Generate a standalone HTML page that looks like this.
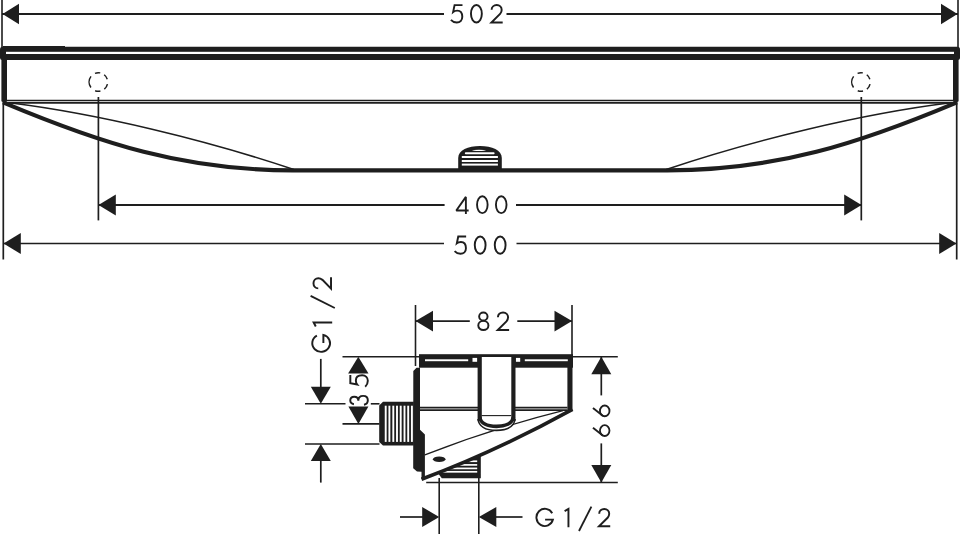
<!DOCTYPE html>
<html><head><meta charset="utf-8"><style>
html,body{margin:0;padding:0;background:#fff;width:960px;height:534px;overflow:hidden;font-family:"Liberation Sans",sans-serif;}
svg{display:block;}
</style></head><body>
<svg width="960" height="534" viewBox="0 0 960 534"><g fill="#1e1e1e" stroke="#1e1e1e" stroke-width="0"><line x1="2" y1="0" x2="2" y2="48" stroke-width="1.6"/>
<line x1="958" y1="0" x2="958" y2="48" stroke-width="1.6"/>
<line x1="2" y1="14.0" x2="444" y2="14.0" stroke-width="1.9"/>
<line x1="506.5" y1="14.0" x2="958" y2="14.0" stroke-width="1.9"/>
<polygon points="2.50,14.00 19.00,3.70 19.00,24.30"/>
<polygon points="957.50,14.00 941.00,3.70 941.00,24.30"/>
<rect x="0" y="46.7" width="960" height="13.4" rx="2.5"/>
<rect x="3" y="46.0" width="62" height="1.5"/>
<rect x="6" y="51.8" width="948" height="2.2" fill="#fff"/>
<rect x="1.4" y="55" width="5.6" height="47" rx="1.5"/>
<rect x="953" y="55" width="5.6" height="47" rx="1.5"/>
<line x1="5" y1="100.5" x2="955" y2="100.5" stroke-width="1.3"/>
<line x1="5" y1="102.9" x2="955" y2="102.9" stroke-width="1.6"/>
<path d="M94.99,73.35 A9.3,9.3 0 0 1 100.25,72.89 M104.19,74.72 A9.3,9.3 0 0 1 107.27,79.20 M107.44,84.17 A9.3,9.3 0 0 1 104.32,89.18 M100.41,91.08 A9.3,9.3 0 0 1 95.14,90.71 M90.92,87.53 A9.3,9.3 0 0 1 91.02,76.34" fill="none" stroke-width="1.5"/>
<path d="M857.59,73.35 A9.3,9.3 0 0 1 862.85,72.89 M866.79,74.72 A9.3,9.3 0 0 1 869.87,79.20 M870.04,84.17 A9.3,9.3 0 0 1 866.92,89.18 M863.01,91.08 A9.3,9.3 0 0 1 857.74,90.71 M853.52,87.53 A9.3,9.3 0 0 1 853.62,76.34" fill="none" stroke-width="1.5"/>
<path d="M3,102.3 C100.9,143.4 183.5,170.35 293,170.35 L667,170.35 C776.5,170.35 859.1,143.4 957,102.3" fill="none" stroke-width="4.1"/>
<path d="M9.4,102.8 C98.6,113.9 205.9,140 293.8,169.5" fill="none" stroke-width="1.55"/>
<path d="M950.6,102.8 C861.4,113.9 754.1,140 666.2,169.5" fill="none" stroke-width="1.55"/>
<path d="M458.2,171 L458.2,158 C458.2,150 468,145.9 480,145.9 C492,145.9 501.8,150 501.8,158 L501.8,171 Z"/>
<ellipse cx="479" cy="150.3" rx="7" ry="0.6" fill="#fff"/>
<rect x="464.8" y="152.2" width="29.8" height="2.1" rx="1" fill="#fff"/>
<rect x="461.8" y="156.0" width="36.1" height="2.0" fill="#fff"/>
<rect x="461.8" y="160.0" width="36.1" height="2.0" fill="#fff"/>
<rect x="461.8" y="163.6" width="36.1" height="2.0" fill="#fff"/>
<line x1="98.4" y1="97" x2="98.4" y2="220.4" stroke-width="1.7"/>
<line x1="861.3" y1="97" x2="861.3" y2="220.4" stroke-width="1.7"/>
<line x1="98.5" y1="205.0" x2="444.6" y2="205.0" stroke-width="1.9"/>
<line x1="516" y1="205.0" x2="861.5" y2="205.0" stroke-width="1.9"/>
<polygon points="98.50,205.00 115.80,194.50 115.80,215.50"/>
<polygon points="861.50,205.00 844.20,194.50 844.20,215.50"/>
<line x1="3.3" y1="102" x2="3.3" y2="259.5" stroke-width="1.7"/>
<line x1="956.7" y1="102" x2="956.7" y2="259.5" stroke-width="1.7"/>
<line x1="3.3" y1="243.5" x2="444" y2="243.5" stroke-width="1.7"/>
<line x1="516.5" y1="243.5" x2="956.7" y2="243.5" stroke-width="1.7"/>
<polygon points="3.50,243.50 20.80,233.00 20.80,254.00"/>
<polygon points="956.50,243.50 939.20,233.00 939.20,254.00"/>
<line x1="415.5" y1="305" x2="415.5" y2="366" stroke-width="1.6"/>
<line x1="572" y1="305" x2="572" y2="356" stroke-width="1.6"/>
<line x1="415.5" y1="321.1" x2="469.8" y2="321.1" stroke-width="1.8"/>
<line x1="517.3" y1="321.1" x2="572" y2="321.1" stroke-width="1.8"/>
<polygon points="415.50,321.10 433.00,310.80 433.00,331.40"/>
<polygon points="572.00,321.10 554.50,310.80 554.50,331.40"/>
<line x1="342.5" y1="356.8" x2="617.8" y2="356.8" stroke-width="1.6"/>
<line x1="426.2" y1="482.5" x2="617.8" y2="482.5" stroke-width="1.6"/>
<line x1="601.3" y1="356.8" x2="601.3" y2="395.4" stroke-width="1.7"/>
<line x1="601.3" y1="443.4" x2="601.3" y2="482.5" stroke-width="1.7"/>
<polygon points="601.30,356.80 591.30,374.30 611.30,374.30"/>
<polygon points="601.30,482.50 591.30,465.00 611.30,465.00"/>
<rect x="419" y="354.2" width="154" height="13.5"/>
<rect x="425" y="359.3" width="43.2" height="1.9" fill="#fff"/>
<rect x="524.8" y="359.3" width="43" height="1.9" fill="#fff"/>
<rect x="472.5" y="357.9" width="4.7" height="3.9" fill="#fff"/>
<rect x="515.9" y="357.9" width="4.3" height="3.9" fill="#fff"/>
<rect x="481.5" y="357.9" width="29.8" height="10" fill="#fff"/>
<path d="M413.3,371 L416.5,367.7 L420,367.7 L420,429.7 L424.9,434.6 L424.9,479 L421.5,479 L421.5,471.8 L417,471.5 L413.2,468.2 Z"/>
<rect x="567.4" y="367" width="5.1" height="43.2"/>
<line x1="420" y1="407.6" x2="567.5" y2="407.6" stroke-width="1.7"/>
<line x1="420" y1="410.2" x2="567.5" y2="410.2" stroke-width="1.7"/>
<path d="M438.4,472.5 L438.4,473.8 L441.8,478.3 L480.8,478.3 L480.8,454 Z"/>
<rect x="466" y="460.4" width="11.2" height="1.7" fill="#fff"/>
<rect x="458" y="464.04999999999995" width="19.2" height="1.7" fill="#fff"/>
<rect x="450" y="467.54999999999995" width="27.2" height="1.7" fill="#fff"/>
<rect x="442" y="470.95" width="35.2" height="1.7" fill="#fff"/>
<path d="M424.9,454.8 Q493.8,427.9 563,410.7" fill="none" stroke-width="1.3"/>
<path d="M421.5,479.2 Q497,450.9 572.5,409.3" fill="none" stroke-width="3.6"/>
<path d="M479.7,357 L479.7,419 C479.5,427.5 487,430.6 496.5,430.6 C506,430.6 513.5,427.5 513.4,419 L513.4,357 Z" fill="#fff"/>
<line x1="479.7" y1="357" x2="479.7" y2="421" stroke-width="4.2"/>
<line x1="513.4" y1="357" x2="513.4" y2="421" stroke-width="4.2"/>
<path d="M479.7,417 C480.5,423.7 488,426.4 496.5,426.4 C505,426.4 512.5,423.7 513.4,417" fill="none" stroke-width="3.6"/>
<path d="M478.0,419 C479.0,427.2 487,430.4 496.5,430.4 C506,430.4 514,427.2 515.1,419" fill="none" stroke-width="1.6"/>
<line x1="481.5" y1="415.6" x2="511.3" y2="415.6" stroke-width="1.1"/>
<ellipse cx="439.2" cy="459.3" rx="6.3" ry="2.8"/>
<path d="M413.8,401.8 L383,401.8 L379.2,405.5 L379.2,442 L383,445.6 L413.8,445.6 Z"/>
<rect x="384.75" y="405.7" width="1.9" height="36.2" fill="#fff"/>
<rect x="388.45" y="405.7" width="1.9" height="36.2" fill="#fff"/>
<rect x="392.35" y="405.7" width="1.9" height="36.2" fill="#fff"/>
<rect x="396.05" y="405.7" width="1.9" height="36.2" fill="#fff"/>
<rect x="399.75" y="405.7" width="1.9" height="36.2" fill="#fff"/>
<rect x="403.55" y="405.7" width="1.9" height="36.2" fill="#fff"/>
<rect x="407.25" y="405.7" width="1.9" height="36.2" fill="#fff"/>
<rect x="410.95" y="405.7" width="1.9" height="36.2" fill="#fff"/>
<line x1="305" y1="403.8" x2="345.5" y2="403.8" stroke-width="1.6"/>
<line x1="370.8" y1="403.8" x2="379.5" y2="403.8" stroke-width="1.6"/>
<line x1="305" y1="444.0" x2="379.5" y2="444.0" stroke-width="1.6"/>
<line x1="342.5" y1="423.9" x2="379.5" y2="423.9" stroke-width="1.6"/>
<line x1="320.8" y1="358.9" x2="320.8" y2="400" stroke-width="1.7"/>
<polygon points="320.80,403.80 310.80,386.80 330.80,386.80"/>
<line x1="320.8" y1="446" x2="320.8" y2="482.6" stroke-width="1.7"/>
<polygon points="320.80,444.00 310.80,461.00 330.80,461.00"/>
<polygon points="358.30,356.80 348.10,373.60 368.50,373.60"/>
<polygon points="358.40,423.90 348.40,406.40 368.40,406.40"/>
<line x1="310.6" y1="295.9" x2="334.8" y2="308.0" stroke-width="1.8"/>
<line x1="439.2" y1="478" x2="439.2" y2="534" stroke-width="1.6"/>
<line x1="478.8" y1="478" x2="478.8" y2="534" stroke-width="1.6"/>
<line x1="400" y1="517" x2="424" y2="517" stroke-width="1.7"/>
<polygon points="439.20,517.00 422.20,507.00 422.20,527.00"/>
<line x1="494" y1="517" x2="522.5" y2="517" stroke-width="1.7"/>
<polygon points="478.80,517.00 496.30,507.00 496.30,527.00"/>
<line x1="579" y1="531" x2="591.4" y2="506.6" stroke-width="1.8"/></g><g fill="none" stroke="#1e1e1e" stroke-width="1.9" stroke-linecap="butt"><g transform="translate(450.10,4.10) scale(1.016)"><path d="M12.2,1 L4.4,1 L3.0,7.7 C4.1,6.8 5.5,6.4 7.0,6.4 C10.2,6.4 12,9 12,12.5 C12,16 9.7,18.05 6.6,18.05 C4.2,18.05 2.2,17.1 0.8,15.5"/></g>
<g transform="translate(470.00,4.10) scale(1.016)"><ellipse cx="6.3" cy="9.5" rx="5.35" ry="8.55"/></g>
<g transform="translate(490.40,4.10) scale(1.016)"><path d="M1.2,5.6 C1.2,2.9 3.4,0.95 6.2,0.95 C9.1,0.95 11.1,3.0 11.1,5.7 C11.1,7.3 10.4,8.5 9.5,9.7 L1.0,18.05 L12.1,18.05"/></g>
<g transform="translate(455.30,195.30) scale(0.989)"><path d="M10.7,19 L10.7,1.6 L1.0,15.4 L13.5,15.4" stroke-linejoin="bevel"/></g>
<g transform="translate(476.10,195.30) scale(0.989)"><ellipse cx="6.3" cy="9.5" rx="5.35" ry="8.55"/></g>
<g transform="translate(495.00,195.30) scale(0.989)"><ellipse cx="6.3" cy="9.5" rx="5.35" ry="8.55"/></g>
<g transform="translate(453.80,235.50) scale(1.011)"><path d="M12.2,1 L4.4,1 L3.0,7.7 C4.1,6.8 5.5,6.4 7.0,6.4 C10.2,6.4 12,9 12,12.5 C12,16 9.7,18.05 6.6,18.05 C4.2,18.05 2.2,17.1 0.8,15.5"/></g>
<g transform="translate(473.80,235.50) scale(1.011)"><ellipse cx="6.3" cy="9.5" rx="5.35" ry="8.55"/></g>
<g transform="translate(493.80,235.50) scale(1.011)"><ellipse cx="6.3" cy="9.5" rx="5.35" ry="8.55"/></g>
<g transform="translate(477.30,311.50) scale(1.026)"><ellipse cx="5.9" cy="4.9" rx="4.1" ry="3.95"/><ellipse cx="5.9" cy="13.6" rx="4.95" ry="4.45"/></g>
<g transform="translate(496.70,311.50) scale(1.026)"><path d="M1.2,5.6 C1.2,2.9 3.4,0.95 6.2,0.95 C9.1,0.95 11.1,3.0 11.1,5.7 C11.1,7.3 10.4,8.5 9.5,9.7 L1.0,18.05 L12.1,18.05"/></g>
<g transform="translate(592.10,436.90) rotate(-90) scale(0.963)"><ellipse cx="6.55" cy="13.1" rx="5.6" ry="4.95"/><path d="M9.5,0.9 L1.5,11.0"/></g>
<g transform="translate(592.10,417.20) rotate(-90) scale(0.963)"><ellipse cx="6.55" cy="13.1" rx="5.6" ry="4.95"/><path d="M9.5,0.9 L1.5,11.0"/></g>
<g transform="translate(349.30,405.60) rotate(-90) scale(1.026)"><path d="M1.3,4.5 C1.6,2.3 3.1,0.95 5.1,0.95 C7.2,0.95 8.7,2.6 8.7,4.8 C8.7,7.2 7.1,8.8 4.8,8.8 C7.8,8.8 9.5,10.8 9.5,13.5 C9.5,16.3 7.7,18.05 5.1,18.05 C2.8,18.05 1.1,16.6 0.8,14.3"/></g>
<g transform="translate(349.30,387.60) rotate(-90) scale(1.026)"><path d="M12.2,1 L4.4,1 L3.0,7.7 C4.1,6.8 5.5,6.4 7.0,6.4 C10.2,6.4 12,9 12,12.5 C12,16 9.7,18.05 6.6,18.05 C4.2,18.05 2.2,17.1 0.8,15.5"/></g>
<g transform="translate(312.70,353.10) rotate(-90) scale(1.026)"><path d="M17.0,4.1 A8.4,8.65 0 1 0 17.75,10.4 L9.9,10.4"/></g>
<g transform="translate(312.70,327.40) rotate(-90) scale(1.026)"><path d="M0.9,3.0 L4.7,0.95 L4.7,19"/></g>
<g transform="translate(312.50,289.60) rotate(-90) scale(1.026)"><path d="M1.2,5.6 C1.2,2.9 3.4,0.95 6.2,0.95 C9.1,0.95 11.1,3.0 11.1,5.7 C11.1,7.3 10.4,8.5 9.5,9.7 L1.0,18.05 L12.1,18.05"/></g>
<g transform="translate(535.20,509.20) scale(1.000)"><path d="M17.0,4.1 A8.4,8.65 0 1 0 17.75,10.4 L9.9,10.4"/></g>
<g transform="translate(563.70,508.00) scale(1.011)"><path d="M0.9,3.0 L4.7,0.95 L4.7,19"/></g>
<g transform="translate(598.00,508.00) scale(1.011)"><path d="M1.2,5.6 C1.2,2.9 3.4,0.95 6.2,0.95 C9.1,0.95 11.1,3.0 11.1,5.7 C11.1,7.3 10.4,8.5 9.5,9.7 L1.0,18.05 L12.1,18.05"/></g></g></svg>
</body></html>
